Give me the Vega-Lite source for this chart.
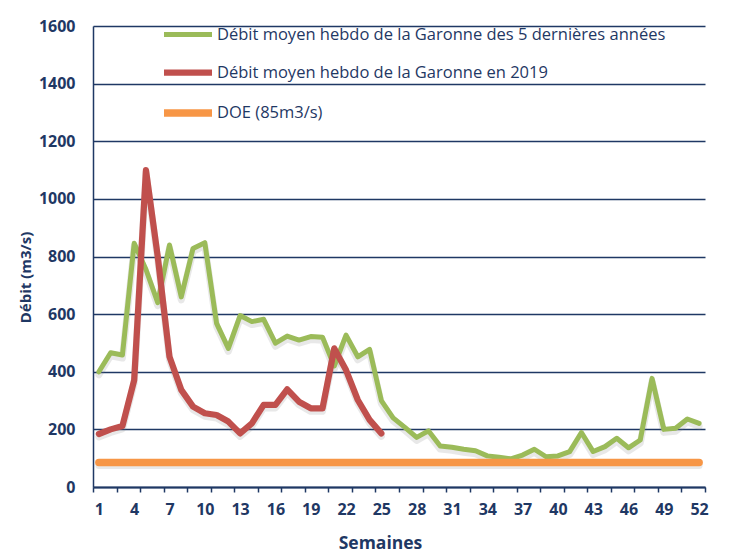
{
  "$schema": "https://vega.github.io/schema/vega-lite/v6.json",
  "autosize": {"type": "none"},
  "padding": {"left": 93, "top": 26, "right": 25, "bottom": 70},
  "width": 612,
  "height": 461,
  "background": "white",
  "config": {
    "font": "Open Sans",
    "view": {"stroke": null},
    "axis": {"labelFont": "Open Sans", "titleFont": "Open Sans", "labelColor": "#1F3864", "titleColor": "#1F3864"}
  },
  "datasets": {
    "flows": [
      {"week": 1, "value": 400, "series": "Débit moyen hebdo de la Garonne des 5 dernières années"},
      {"week": 2, "value": 466, "series": "Débit moyen hebdo de la Garonne des 5 dernières années"},
      {"week": 3, "value": 458, "series": "Débit moyen hebdo de la Garonne des 5 dernières années"},
      {"week": 4, "value": 846, "series": "Débit moyen hebdo de la Garonne des 5 dernières années"},
      {"week": 5, "value": 755, "series": "Débit moyen hebdo de la Garonne des 5 dernières années"},
      {"week": 6, "value": 640, "series": "Débit moyen hebdo de la Garonne des 5 dernières années"},
      {"week": 7, "value": 840, "series": "Débit moyen hebdo de la Garonne des 5 dernières années"},
      {"week": 8, "value": 660, "series": "Débit moyen hebdo de la Garonne des 5 dernières années"},
      {"week": 9, "value": 828, "series": "Débit moyen hebdo de la Garonne des 5 dernières années"},
      {"week": 10, "value": 848, "series": "Débit moyen hebdo de la Garonne des 5 dernières années"},
      {"week": 11, "value": 568, "series": "Débit moyen hebdo de la Garonne des 5 dernières années"},
      {"week": 12, "value": 481, "series": "Débit moyen hebdo de la Garonne des 5 dernières années"},
      {"week": 13, "value": 595, "series": "Débit moyen hebdo de la Garonne des 5 dernières années"},
      {"week": 14, "value": 574, "series": "Débit moyen hebdo de la Garonne des 5 dernières années"},
      {"week": 15, "value": 582, "series": "Débit moyen hebdo de la Garonne des 5 dernières années"},
      {"week": 16, "value": 499, "series": "Débit moyen hebdo de la Garonne des 5 dernières années"},
      {"week": 17, "value": 524, "series": "Débit moyen hebdo de la Garonne des 5 dernières années"},
      {"week": 18, "value": 510, "series": "Débit moyen hebdo de la Garonne des 5 dernières années"},
      {"week": 19, "value": 522, "series": "Débit moyen hebdo de la Garonne des 5 dernières années"},
      {"week": 20, "value": 520, "series": "Débit moyen hebdo de la Garonne des 5 dernières années"},
      {"week": 21, "value": 420, "series": "Débit moyen hebdo de la Garonne des 5 dernières années"},
      {"week": 22, "value": 527, "series": "Débit moyen hebdo de la Garonne des 5 dernières années"},
      {"week": 23, "value": 452, "series": "Débit moyen hebdo de la Garonne des 5 dernières années"},
      {"week": 24, "value": 478, "series": "Débit moyen hebdo de la Garonne des 5 dernières années"},
      {"week": 25, "value": 300, "series": "Débit moyen hebdo de la Garonne des 5 dernières années"},
      {"week": 26, "value": 240, "series": "Débit moyen hebdo de la Garonne des 5 dernières années"},
      {"week": 27, "value": 207, "series": "Débit moyen hebdo de la Garonne des 5 dernières années"},
      {"week": 28, "value": 172, "series": "Débit moyen hebdo de la Garonne des 5 dernières années"},
      {"week": 29, "value": 195, "series": "Débit moyen hebdo de la Garonne des 5 dernières années"},
      {"week": 30, "value": 142, "series": "Débit moyen hebdo de la Garonne des 5 dernières années"},
      {"week": 31, "value": 138, "series": "Débit moyen hebdo de la Garonne des 5 dernières années"},
      {"week": 32, "value": 131, "series": "Débit moyen hebdo de la Garonne des 5 dernières années"},
      {"week": 33, "value": 126, "series": "Débit moyen hebdo de la Garonne des 5 dernières années"},
      {"week": 34, "value": 108, "series": "Débit moyen hebdo de la Garonne des 5 dernières années"},
      {"week": 35, "value": 103, "series": "Débit moyen hebdo de la Garonne des 5 dernières années"},
      {"week": 36, "value": 98, "series": "Débit moyen hebdo de la Garonne des 5 dernières années"},
      {"week": 37, "value": 111, "series": "Débit moyen hebdo de la Garonne des 5 dernières années"},
      {"week": 38, "value": 131, "series": "Débit moyen hebdo de la Garonne des 5 dernières années"},
      {"week": 39, "value": 105, "series": "Débit moyen hebdo de la Garonne des 5 dernières années"},
      {"week": 40, "value": 108, "series": "Débit moyen hebdo de la Garonne des 5 dernières années"},
      {"week": 41, "value": 123, "series": "Débit moyen hebdo de la Garonne des 5 dernières années"},
      {"week": 42, "value": 189, "series": "Débit moyen hebdo de la Garonne des 5 dernières années"},
      {"week": 43, "value": 123, "series": "Débit moyen hebdo de la Garonne des 5 dernières années"},
      {"week": 44, "value": 140, "series": "Débit moyen hebdo de la Garonne des 5 dernières années"},
      {"week": 45, "value": 169, "series": "Débit moyen hebdo de la Garonne des 5 dernières années"},
      {"week": 46, "value": 136, "series": "Débit moyen hebdo de la Garonne des 5 dernières années"},
      {"week": 47, "value": 163, "series": "Débit moyen hebdo de la Garonne des 5 dernières années"},
      {"week": 48, "value": 377, "series": "Débit moyen hebdo de la Garonne des 5 dernières années"},
      {"week": 49, "value": 200, "series": "Débit moyen hebdo de la Garonne des 5 dernières années"},
      {"week": 50, "value": 204, "series": "Débit moyen hebdo de la Garonne des 5 dernières années"},
      {"week": 51, "value": 236, "series": "Débit moyen hebdo de la Garonne des 5 dernières années"},
      {"week": 52, "value": 221, "series": "Débit moyen hebdo de la Garonne des 5 dernières années"},
      {"week": 1, "value": 184, "series": "Débit moyen hebdo de la Garonne en 2019"},
      {"week": 2, "value": 200, "series": "Débit moyen hebdo de la Garonne en 2019"},
      {"week": 3, "value": 212, "series": "Débit moyen hebdo de la Garonne en 2019"},
      {"week": 4, "value": 371, "series": "Débit moyen hebdo de la Garonne en 2019"},
      {"week": 5, "value": 1100, "series": "Débit moyen hebdo de la Garonne en 2019"},
      {"week": 6, "value": 800, "series": "Débit moyen hebdo de la Garonne en 2019"},
      {"week": 7, "value": 452, "series": "Débit moyen hebdo de la Garonne en 2019"},
      {"week": 8, "value": 337, "series": "Débit moyen hebdo de la Garonne en 2019"},
      {"week": 9, "value": 279, "series": "Débit moyen hebdo de la Garonne en 2019"},
      {"week": 10, "value": 256, "series": "Débit moyen hebdo de la Garonne en 2019"},
      {"week": 11, "value": 250, "series": "Débit moyen hebdo de la Garonne en 2019"},
      {"week": 12, "value": 227, "series": "Débit moyen hebdo de la Garonne en 2019"},
      {"week": 13, "value": 186, "series": "Débit moyen hebdo de la Garonne en 2019"},
      {"week": 14, "value": 221, "series": "Débit moyen hebdo de la Garonne en 2019"},
      {"week": 15, "value": 285, "series": "Débit moyen hebdo de la Garonne en 2019"},
      {"week": 16, "value": 285, "series": "Débit moyen hebdo de la Garonne en 2019"},
      {"week": 17, "value": 339, "series": "Débit moyen hebdo de la Garonne en 2019"},
      {"week": 18, "value": 296, "series": "Débit moyen hebdo de la Garonne en 2019"},
      {"week": 19, "value": 273, "series": "Débit moyen hebdo de la Garonne en 2019"},
      {"week": 20, "value": 273, "series": "Débit moyen hebdo de la Garonne en 2019"},
      {"week": 21, "value": 481, "series": "Débit moyen hebdo de la Garonne en 2019"},
      {"week": 22, "value": 406, "series": "Débit moyen hebdo de la Garonne en 2019"},
      {"week": 23, "value": 302, "series": "Débit moyen hebdo de la Garonne en 2019"},
      {"week": 24, "value": 233, "series": "Débit moyen hebdo de la Garonne en 2019"},
      {"week": 25, "value": 186, "series": "Débit moyen hebdo de la Garonne en 2019"},
      {"week": 1, "value": 85, "series": "DOE (85m3/s)"},
      {"week": 52, "value": 85, "series": "DOE (85m3/s)"}
    ]
  },
  "data": {"name": "flows"},
  "resolve": {"axis": {"x": "independent"}},
  "layer": [
    {
      "mark": {"type": "line", "color": "#7f7f7f", "opacity": 0.18, "strokeWidth": 7, "yOffset": 3, "strokeCap": "round", "strokeJoin": "round"},
      "encoding": {
        "x": {
          "field": "week", "type": "quantitative",
          "scale": {"domain": [0.5, 52.5], "nice": false, "zero": false},
          "axis": {
            "orient": "bottom",
            "title": "Semaines",
            "values": [0.5, 2.5, 4.5, 6.5, 8.5, 10.5, 12.5, 14.5, 16.5, 18.5, 20.5, 22.5, 24.5, 26.5, 28.5, 30.5, 32.5, 34.5, 36.5, 38.5, 40.5, 42.5, 44.5, 46.5, 48.5, 50.5, 52.5],
            "labels": false,
            "tickSize": 5,
            "tickColor": "#1F3864",
            "tickWidth": 1.5,
            "domainColor": "#1F3864",
            "domainWidth": 2,
            "grid": false,
            "titleFontSize": 17.5,
            "titleFontWeight": "bold",
            "titleX": 287,
            "titleY": 56,
            "titleBaseline": "middle"
          }
        },
        "y": {"field": "value", "type": "quantitative"},
        "detail": {"field": "series"}
      }
    },
    {
      "mark": {"type": "line", "strokeCap": "round", "strokeJoin": "round"},
      "encoding": {
        "x": {
          "field": "week", "type": "quantitative",
          "axis": {
            "orient": "bottom",
            "title": null,
            "values": [1, 4, 7, 10, 13, 16, 19, 22, 25, 28, 31, 34, 37, 40, 43, 46, 49, 52],
            "format": "d",
            "labelOverlap": false,
            "labelFlush": false,
            "labelFontSize": 16,
            "labelFontWeight": "bold",
            "labelPadding": 14,
            "ticks": false,
            "domain": false,
            "grid": false
          }
        },
        "y": {
          "field": "value", "type": "quantitative",
          "scale": {"domain": [0, 1600], "nice": false},
          "axis": {
            "title": "Débit (m3/s)",
            "values": [0, 200, 400, 600, 800, 1000, 1200, 1400, 1600],
            "format": "d",
            "labelFontSize": 16,
            "labelFontWeight": "bold",
            "labelPadding": 18,
            "tickSize": 0,
            "domainColor": "#1F3864",
            "domainWidth": 1.5,
            "gridColor": "#1F3864",
            "gridWidth": 1.5,
            "titleFontSize": 15,
            "titleFontWeight": "bold",
            "titleX": -68,
            "titleY": 251,
            "titleBaseline": "middle",
            "titleAlign": "center"
          }
        },
        "color": {
          "field": "series", "type": "nominal",
          "scale": {
            "domain": ["Débit moyen hebdo de la Garonne des 5 dernières années", "Débit moyen hebdo de la Garonne en 2019", "DOE (85m3/s)"],
            "range": ["#9BBB59", "#C0504D", "#F79646"]
          },
          "legend": {
            "title": null,
            "orient": "none",
            "legendX": 67,
            "legendY": -18,
            "direction": "vertical",
            "symbolType": "M-1,0L1,0",
            "symbolSize": 2304,
            "symbolStrokeWidth": 5,
            "symbolStrokeCap": "round",
            "labelFont": "Open Sans",
            "labelFontSize": 16.5,
            "labelColor": "#1F3864",
            "labelLimit": 700,
            "labelOffset": 1,
            "rowPadding": -12,
            "padding": 0
          }
        },
        "strokeWidth": {
          "field": "series", "type": "nominal",
          "scale": {
            "domain": ["Débit moyen hebdo de la Garonne des 5 dernières années", "Débit moyen hebdo de la Garonne en 2019", "DOE (85m3/s)"],
            "range": [5, 7.5, 5]
          },
          "legend": null
        }
      }
    }
  ]
}
